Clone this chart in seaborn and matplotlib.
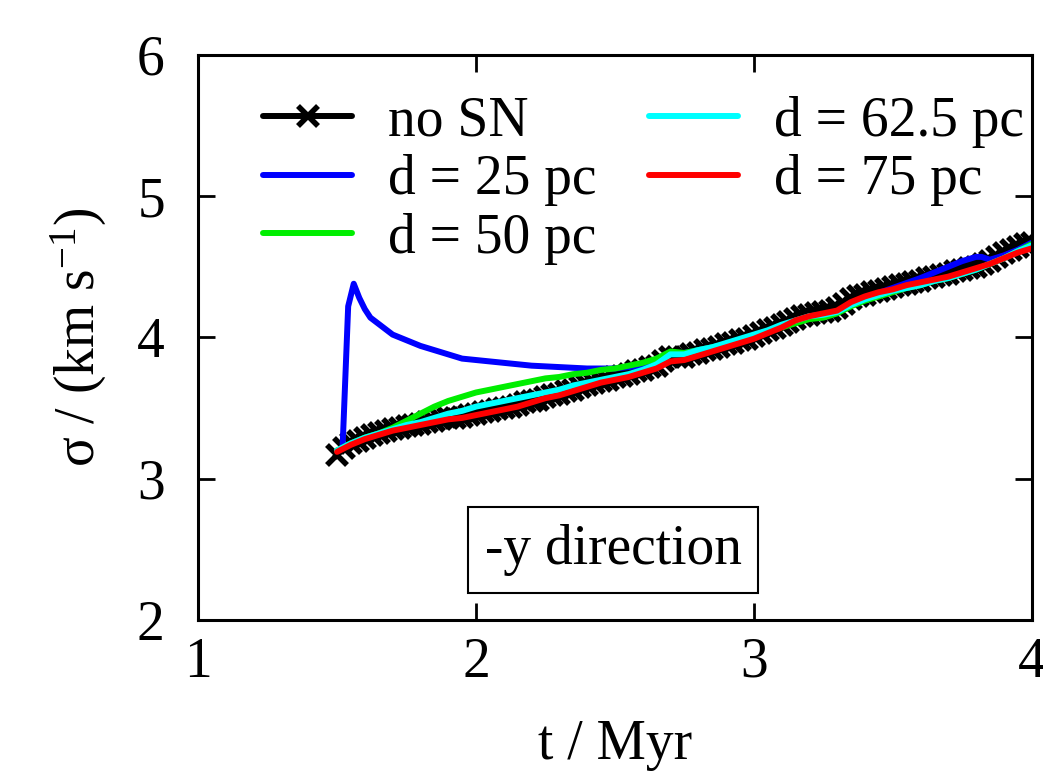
import numpy as np
import matplotlib
matplotlib.use("Agg")
import matplotlib.pyplot as plt
import seaborn as sns

# ============================================
# DATOS
# ============================================

# no SN (paso 0.025 Myr)
t_nosn = [1.500, 1.525, 1.550, 1.575, 1.600, 1.625, 1.650, 1.675, 1.700, 1.725,
          1.750, 1.775, 1.800, 1.825, 1.850, 1.875, 1.900, 1.925, 1.950, 1.975,
          2.000, 2.025, 2.050, 2.075, 2.100, 2.125, 2.150, 2.175, 2.200, 2.225,
          2.250, 2.275, 2.300, 2.325, 2.350, 2.375, 2.400, 2.425, 2.450, 2.475,
          2.500, 2.525, 2.550, 2.575, 2.600, 2.625, 2.650, 2.675, 2.700, 2.725,
          2.750, 2.775, 2.800, 2.825, 2.850, 2.875, 2.900, 2.925, 2.950, 2.975,
          3.000, 3.025, 3.050, 3.075, 3.100, 3.125, 3.150, 3.175, 3.200, 3.225,
          3.250, 3.275, 3.300, 3.325, 3.350, 3.375, 3.400, 3.425, 3.450, 3.475,
          3.500, 3.525, 3.550, 3.575, 3.600, 3.625, 3.650, 3.675, 3.700, 3.725,
          3.750, 3.775, 3.800, 3.825, 3.850, 3.875, 3.900, 3.925, 3.950, 3.975,
          4.000]
sig_nosn = [3.17, 3.22, 3.25, 3.27, 3.29, 3.31, 3.32, 3.34, 3.35, 3.36,
            3.37, 3.38, 3.39, 3.40, 3.41, 3.42, 3.43, 3.43, 3.44, 3.45,
            3.46, 3.47, 3.48, 3.49, 3.50, 3.51, 3.52, 3.54, 3.55, 3.56,
            3.58, 3.59, 3.60, 3.62, 3.63, 3.65, 3.66, 3.68, 3.69, 3.70,
            3.72, 3.73, 3.74, 3.76, 3.77, 3.79, 3.80, 3.83, 3.86, 3.86,
            3.86, 3.88, 3.89, 3.91, 3.92, 3.93, 3.95, 3.96, 3.98, 3.99,
            4.01, 4.03, 4.05, 4.07, 4.09, 4.11, 4.13, 4.15, 4.16, 4.17,
            4.18, 4.19, 4.21, 4.24, 4.27, 4.29, 4.30, 4.32, 4.33, 4.34,
            4.36, 4.37, 4.38, 4.39, 4.40, 4.42, 4.43, 4.44, 4.45, 4.47,
            4.48, 4.49, 4.50, 4.52, 4.54, 4.57, 4.60, 4.62, 4.64, 4.66,
            4.67]

# d = 25 pc
t_d25 = [1.52, 1.54, 1.56, 1.58, 1.60, 1.62, 1.66, 1.70, 1.75, 1.80,
         1.85, 1.90, 1.95, 2.00, 2.10, 2.20, 2.30, 2.40, 2.50, 2.60,
         2.65, 2.70, 2.75, 2.80, 2.90, 3.00, 3.10, 3.20, 3.25, 3.30,
         3.35, 3.40, 3.50, 3.60, 3.70, 3.75, 3.80, 3.82, 3.85, 3.90,
         3.95, 4.00]
sig_d25 = [3.23, 4.22, 4.38, 4.28, 4.20, 4.14, 4.08, 4.02, 3.98, 3.94,
           3.91, 3.88, 3.85, 3.84, 3.82, 3.80, 3.79, 3.78, 3.78, 3.80,
           3.84, 3.89, 3.89, 3.91, 3.95, 4.01, 4.08, 4.14, 4.16, 4.18,
           4.24, 4.28, 4.35, 4.42, 4.50, 4.54, 4.57, 4.57, 4.55, 4.58,
           4.62, 4.67]

# paso comun de 0.05 Myr para d = 50, 62.5, 75 pc
t_grid = [1.50, 1.55, 1.60, 1.65, 1.70, 1.75, 1.80, 1.85, 1.90, 1.95,
          2.00, 2.05, 2.10, 2.15, 2.20, 2.25, 2.30, 2.35, 2.40, 2.45,
          2.50, 2.55, 2.60, 2.65, 2.70, 2.75, 2.80, 2.85, 2.90, 2.95,
          3.00, 3.05, 3.10, 3.15, 3.20, 3.25, 3.30, 3.35, 3.40, 3.45,
          3.50, 3.55, 3.60, 3.65, 3.70, 3.75, 3.80, 3.85, 3.90, 3.95,
          4.00]
sig_d50 = [3.20, 3.25, 3.29, 3.32, 3.36, 3.41, 3.46, 3.51, 3.55, 3.58,
           3.61, 3.63, 3.65, 3.67, 3.69, 3.71, 3.72, 3.74, 3.75, 3.77,
           3.78, 3.80, 3.82, 3.85, 3.90, 3.89, 3.91, 3.93, 3.95, 3.98,
           4.01, 4.04, 4.07, 4.10, 4.13, 4.14, 4.17, 4.22, 4.26, 4.29,
           4.32, 4.35, 4.37, 4.40, 4.42, 4.45, 4.48, 4.52, 4.56, 4.61,
           4.66]
sig_d625 = [3.20, 3.25, 3.29, 3.32, 3.35, 3.38, 3.40, 3.43, 3.46, 3.48,
            3.51, 3.53, 3.55, 3.57, 3.59, 3.61, 3.63, 3.66, 3.68, 3.70,
            3.72, 3.74, 3.77, 3.81, 3.88, 3.88, 3.91, 3.93, 3.96, 3.99,
            4.02, 4.05, 4.09, 4.12, 4.15, 4.16, 4.18, 4.23, 4.27, 4.30,
            4.33, 4.35, 4.37, 4.40, 4.42, 4.45, 4.48, 4.52, 4.56, 4.61,
            4.65]
sig_d75 = [3.19, 3.24, 3.28, 3.31, 3.34, 3.36, 3.38, 3.40, 3.42, 3.43,
           3.45, 3.47, 3.49, 3.51, 3.54, 3.57, 3.59, 3.62, 3.65, 3.68,
           3.70, 3.72, 3.75, 3.78, 3.83, 3.84, 3.87, 3.90, 3.93, 3.96,
           3.99, 4.03, 4.07, 4.12, 4.15, 4.17, 4.19, 4.25, 4.29, 4.32,
           4.34, 4.37, 4.39, 4.41, 4.43, 4.46, 4.49, 4.52, 4.56, 4.60,
           4.63]

x_ticks = [1, 2, 3, 4]
y_ticks = [2, 3, 4, 5, 6]

# ============================================
# ESTILO
# ============================================

sns.set_theme(style="ticks")
plt.rcParams['font.family'] = ['Liberation Serif', 'DejaVu Serif']
plt.rcParams['mathtext.fontset'] = 'custom'
plt.rcParams['mathtext.rm'] = 'Liberation Serif'
plt.rcParams['mathtext.it'] = 'Liberation Serif:italic'
for k in ['text.color', 'axes.labelcolor', 'xtick.color', 'ytick.color',
          'axes.edgecolor']:
    plt.rcParams[k] = 'black'

FS = 40
LW = 4.3

fig = plt.figure(figsize=(10.43, 7.73), dpi=100)
ax = fig.add_axes([0.190, 0.198, 0.799, 0.731])

sns.lineplot(x=t_nosn, y=sig_nosn, ax=ax, color='black', lw=LW,
             marker='x', markersize=14, markeredgewidth=4,
             markeredgecolor='black', label='no SN', estimator=None, sort=False)
sns.lineplot(x=t_d25, y=sig_d25, ax=ax, color='#0000ff', lw=LW,
             label='d = 25 pc', estimator=None, sort=False)
sns.lineplot(x=t_grid, y=sig_d50, ax=ax, color='#00ee00', lw=LW,
             label='d = 50 pc', estimator=None, sort=False)
sns.lineplot(x=t_grid, y=sig_d625, ax=ax, color='#00ffff', lw=LW,
             label='d = 62.5 pc', estimator=None, sort=False)
sns.lineplot(x=t_grid, y=sig_d75, ax=ax, color='#ff0000', lw=LW,
             label='d = 75 pc', estimator=None, sort=False)

ax.set_xlim(1, 4)
ax.set_ylim(2, 6)
ax.set_xticks(x_ticks)
ax.set_yticks(y_ticks)
ax.tick_params(direction='in', length=12, width=2, labelsize=FS,
               top=True, right=True)
ax.tick_params(axis='x', pad=12)
ax.tick_params(axis='y', pad=24)
for s in ax.spines.values():
    s.set_linewidth(2.2)
    s.set_color('black')

ax.set_xlabel('t / Myr', fontsize=FS, labelpad=22)
ax.set_ylabel(r'σ / (km s$^{\mathregular{-1}}$)', fontsize=FS, labelpad=20)

leg = ax.legend(loc='upper left', ncol=2, frameon=False, fontsize=FS,
                handlelength=1.6, handletextpad=0.65, columnspacing=0.95,
                labelspacing=0.12, numpoints=1, borderaxespad=0,
                borderpad=0, bbox_to_anchor=(0.078, 0.928))

ax.text(0.498, 0.124, '-y direction', transform=ax.transAxes, fontsize=FS,
        ha='center', va='center',
        bbox=dict(boxstyle='square,pad=0.3', fc='white', ec='black', lw=1.5))

plt.savefig('out.png', dpi=100)
plt.close()
